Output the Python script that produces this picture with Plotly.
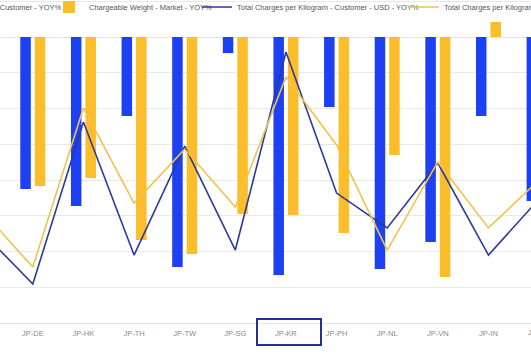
import plotly.graph_objects as go

categories = ["JP-CN", "JP-DE", "JP-HK", "JP-TH", "JP-TW", "JP-SG", "JP-KR",
              "JP-PH", "JP-NL", "JP-VN", "JP-IN", "JP-US"]

cw_customer_yoy = [-60.0, -85.0, -94.5, -44.2, -128.7, -9.0, -133.1,
                   -39.2, -129.8, -114.7, -44.2, -91.7]
cw_market_yoy = [-50.0, -83.4, -78.9, -113.6, -121.4, -99.0, -99.6,
                 -109.6, -66.0, -134.3, 8.4, -70.0]
tc_customer_yoy = [-109.1, -138.2, -47.6, -122.0, -61.0, -119.2, -8.4,
                   -87.3, -106.8, -70.5, -122.0, -90.6]
tc_market_yoy = [-97.3, -128.7, -39.7, -92.9, -62.7, -95.1, -22.4,
                 -60.4, -119.2, -69.9, -106.8, -80.0]

names = ["Chargeable Weight - Customer - YOY%",
         "Chargeable Weight - Market - YOY%",
         "Total Charges per Kilogram - Customer - USD - YOY%",
         "Total Charges per Kilogram - Market - USD - YOY%"]

BLUE = "#1c40f2"
YELLOW = "#fcbd2b"
NAVY = "#2b3a9e"
LYELLOW = "#f2c24a"

W, H = 531, 354
PLOT_B = 323  # px from top where plot area ends
X_RANGE = [0.352, 10.84]

fig = go.Figure()
fig.add_trace(go.Bar(x=categories, y=cw_customer_yoy, name=names[0],
                     marker=dict(color=BLUE, line=dict(width=0)), legend="legend"))
fig.add_trace(go.Bar(x=categories, y=cw_market_yoy, name=names[1],
                     marker=dict(color=YELLOW, line=dict(width=0)), legend="legend2"))
fig.add_trace(go.Scatter(x=categories, y=tc_customer_yoy, name=names[2], mode="lines",
                         line=dict(color=NAVY, width=1.6), legend="legend3"))
fig.add_trace(go.Scatter(x=categories, y=tc_market_yoy, name=names[3], mode="lines",
                         line=dict(color=LYELLOW, width=1.6), legend="legend4"))

FONT = "Liberation Sans, Arial, sans-serif"
legfont = dict(family=FONT, size=7.5, color="#555555")
ly = 1 - 7 / PLOT_B

def leg(xpx):
    return dict(x=xpx / W, xanchor="left", y=ly, yanchor="middle",
                orientation="h", bgcolor="rgba(0,0,0,0)", font=legfont,
                itemwidth=30, borderwidth=0)

# paper position of the last (partly cut) category label
last_idx = len(categories) - 1
last_paper_x = (last_idx - X_RANGE[0]) / (X_RANGE[1] - X_RANGE[0])

fig.update_layout(
    width=W, height=H,
    margin=dict(l=0, r=0, t=0, b=H - PLOT_B, pad=0, autoexpand=False),
    paper_bgcolor="white", plot_bgcolor="white",
    barmode="group", bargap=0.427, bargroupgap=0.276,
    showlegend=True,
    legend=leg(-111), legend2=leg(49), legend3=leg(197), legend4=leg(404),
    xaxis=dict(type="category", range=X_RANGE, showgrid=False,
               showline=True, linecolor="#e3e3e3", linewidth=1, ticks="",
               ticklabelstandoff=3,
               tickfont=dict(family=FONT, size=7.5, color="#8a8a8a"),
               fixedrange=True),
    yaxis=dict(range=[-160, 20.7], dtick=20, showticklabels=False,
               gridcolor="#e8e8e8", gridwidth=1, zeroline=True,
               zerolinecolor="#e3e3e3", zerolinewidth=1, fixedrange=True),
    shapes=[dict(type="rect", xref="paper", yref="paper",
                 x0=257 / W, x1=321 / W,
                 y0=(PLOT_B - 345) / PLOT_B, y1=(PLOT_B - 319) / PLOT_B,
                 line=dict(color="#22309a", width=2), fillcolor="rgba(0,0,0,0)",
                 layer="above")],
    annotations=[dict(x=last_paper_x, xref="paper", y=(PLOT_B - 332.5) / PLOT_B,
                      yref="paper", yanchor="middle", xanchor="center",
                      text=categories[-1], showarrow=False,
                      font=dict(family=FONT, size=7.5, color="#8a8a8a"))],
)

fig.write_html("out.html")
